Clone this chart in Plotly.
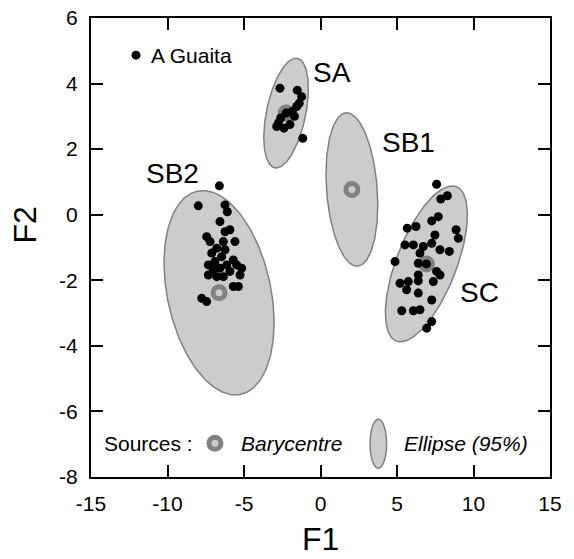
import numpy as np
import plotly.graph_objects as go

# ---------------- data ----------------
sa_x = [-2.65, -1.52, -1.23, -1.39, -1.56, -2.86, -2.39, -1.16, -2.25, -2.60, -1.85, -2.75, -2.00, -1.70]
sa_y = [3.86, 3.80, 3.60, 3.40, 3.30, 2.69, 2.64, 2.33, 3.10, 2.95, 3.15, 2.80, 2.75, 3.00]

sb2_x = [-6.61, -7.99, -6.24, -6.09, -6.57, -5.92, -6.24, -7.44, -7.22, -5.59, -6.35, -6.78, -6.24,
         -7.11, -6.46, -6.90, -5.70, -6.13, -7.33, -5.15, -5.48, -6.57, -7.01, -5.92, -7.33, -6.35,
         -5.26, -6.78, -5.70, -5.37, -7.76, -7.44]
sb2_y = [0.88, 0.27, 0.30, 0.09, -0.21, -0.46, -0.52, -0.67, -0.82, -0.82, -0.82, -1.02, -1.07,
         -1.17, -1.28, -1.43, -1.38, -1.53, -1.53, -1.63, -1.53, -1.63, -1.68, -1.73, -1.84, -1.89,
         -1.84, -1.89, -2.19, -2.19, -2.55, -2.65]

sc_x = [7.59, 7.86, 8.29, 7.27, 7.70, 5.67, 6.24, 8.86, 9.01, 7.48, 5.52, 6.07, 6.72, 7.27, 7.81,
        8.42, 6.50, 4.87, 6.39, 6.92, 7.59, 7.81, 6.39, 7.37, 5.20, 5.74, 6.39, 5.63, 6.39, 7.27,
        5.31, 6.07, 6.50, 7.27, 6.94]
sc_y = [0.93, 0.48, 0.58, -0.19, -0.06, -0.41, -0.36, -0.46, -0.72, -0.62, -0.92, -0.92, -0.97,
        -0.87, -1.07, -1.12, -1.17, -1.43, -1.48, -1.50, -1.73, -1.84, -1.84, -2.04, -2.09, -2.04,
        -2.02, -2.29, -2.39, -2.60, -2.93, -2.93, -2.90, -3.26, -3.46]

sources = ["SA", "SB1", "SB2", "SC"]
bary_x = [-2.25, 2.05, -6.63, 6.92]
bary_y = [3.10, 0.77, -2.38, -1.50]
# ellipse conjugate semi-axes (data units): major (mx,my), minor (nx,ny)
ell_mx = [0.739, -0.379, -1.412, 1.961]
ell_my = [1.668, 2.338, 3.098, 2.354]
ell_nx = [1.255, 1.649, 3.307, 1.827]
ell_ny = [-0.121, 0.058, 0.328, -0.331]

label_x = [0.75, 5.72, -9.67, 10.36]
label_y = [4.35, 2.19, 1.27, -2.38]

x_ticks = [-15, -10, -5, 0, 5, 10, 15]
x_ticktext = ["-15", "-10", "-5", "0", "5", "10", "15"]
y_ticks = [-8, -6, -4, -2, 0, 2, 4, 6]
y_ticktext = ["-8", "-6", "-4", "-2", "0", "2", "4", "6"]

FONT = "Liberation Sans, Arial, sans-serif"
ELL_FILL = "#cccccc"
ELL_LINE = "#808080"
RING = "#808080"

fig = go.Figure()

t = np.linspace(0, 2 * np.pi, 200)
for i in range(len(sources)):
    ex = bary_x[i] + ell_mx[i] * np.cos(t) + ell_nx[i] * np.sin(t)
    ey = bary_y[i] + ell_my[i] * np.cos(t) + ell_ny[i] * np.sin(t)
    fig.add_trace(go.Scatter(x=ex, y=ey, mode="lines", fill="toself",
                             fillcolor=ELL_FILL, line=dict(color=ELL_LINE, width=1.5),
                             hoverinfo="skip", showlegend=False))

fig.add_trace(go.Scatter(x=bary_x, y=bary_y, mode="markers",
                         marker=dict(size=12, color=ELL_FILL, line=dict(color=RING, width=5)),
                         showlegend=False))

pts_x = sa_x + sb2_x + sc_x
pts_y = sa_y + sb2_y + sc_y
fig.add_trace(go.Scatter(x=pts_x, y=pts_y, mode="markers",
                         marker=dict(size=9, color="black"), showlegend=False))

for i, s in enumerate(sources):
    fig.add_annotation(x=label_x[i], y=label_y[i], text=s, showarrow=False,
                       xanchor="center", yanchor="middle",
                       font=dict(size=28, color="black", family=FONT))

# legend-like items (paper coords)
def note(x, y, text, size=21, xanchor="left", yanchor="middle", angle=0):
    fig.add_annotation(x=x, y=y, xref="paper", yref="paper", text=text, showarrow=False,
                       xanchor=xanchor, yanchor=yanchor, textangle=angle,
                       font=dict(size=size, color="black", family=FONT))

fig.add_trace(go.Scatter(x=[0.098], y=[0.919], xaxis="x2", yaxis="y2", mode="markers",
                         marker=dict(size=9, color="black"), showlegend=False))
note(0.1255, 0.919, "A Guaita")
note(0.126, 0.074, "Sources :", xanchor="center")
fig.add_trace(go.Scatter(x=[0.270], y=[0.0734], xaxis="x2", yaxis="y2", mode="markers",
                         marker=dict(size=12, color=ELL_FILL, line=dict(color=RING, width=5)),
                         showlegend=False))
note(0.3226, 0.074, "<i>Barycentre</i>")
fig.add_shape(type="circle", xref="paper", yref="paper", x0=0.608, x1=0.644, y0=0.019, y1=0.1257,
              fillcolor=ELL_FILL, line=dict(color=ELL_LINE, width=1.5))
note(0.678, 0.074, "<i>Ellipse (95%)</i>")

# axis titles
note(0.5, -0.1786, "F1", size=32, xanchor="center", yanchor="bottom")
note(-0.144, 0.55, "F2", size=32, xanchor="center", angle=-90)

axis_common = dict(showgrid=False, zeroline=False, showline=True, linecolor="black", linewidth=2,
                   ticks="inside", ticklen=12, tickwidth=2, tickcolor="black", mirror="ticks",
                   automargin=False, ticklabelstandoff=7,
                   tickfont=dict(size=21, color="black", family=FONT))
fig.update_layout(
    width=574, height=559,
    margin=dict(l=91, r=24, t=18, b=82, autoexpand=False),
    paper_bgcolor="white", plot_bgcolor="white",
    showlegend=False,
    xaxis=dict(range=[-15, 15], tickvals=x_ticks, ticktext=x_ticktext, **axis_common),
    yaxis=dict(range=[-8, 6], tickvals=y_ticks, ticktext=y_ticktext, **axis_common),
    xaxis2=dict(range=[0, 1], overlaying="x", visible=False),
    yaxis2=dict(range=[0, 1], overlaying="y", visible=False),
)

fig.write_html("out.html")
